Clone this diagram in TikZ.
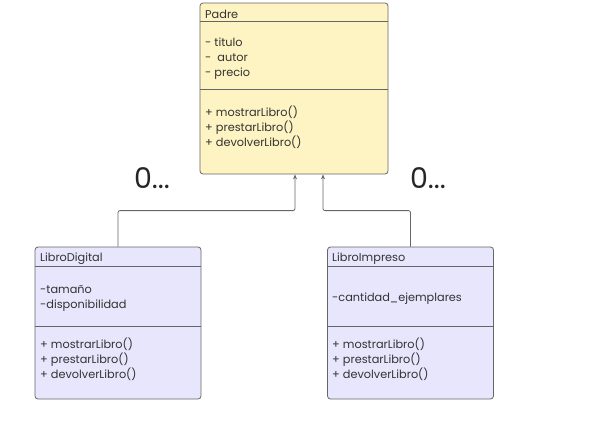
\documentclass[tikz,border=0pt]{standalone}
\usepackage{fontspec}
\setmainfont{Poppins}
\usetikzlibrary{arrows.meta}
\definecolor{padrefill}{HTML}{FEF3C2}
\definecolor{hijofill}{HTML}{E8E6FC}
\definecolor{linea}{HTML}{666666}
\begin{document}
\begin{tikzpicture}
[x=1pt,y=-1pt,
clase/.style={draw=linea,line width=.8pt,rounded corners=3pt,inner sep=0pt},
padre/.style={clase,fill=padrefill,minimum width=188pt,minimum height=171pt},
hijo/.style={clase,fill=hijofill,minimum width=166pt,minimum height=152pt},
sep/.style={draw=linea,line width=.8pt},
txt/.style={anchor=west,inner sep=0pt,align=left,text=black!80,font=\fontsize{11.3}{15}\selectfont},
mult/.style={inner sep=0pt,text=black!85,font=\fontsize{28.5}{28.5}\selectfont},
conn/.style={draw=linea,line width=.8pt,rounded corners=2pt,-{Stealth[length=5pt,width=4pt]}}]
\useasboundingbox (0,0) rectangle (593,434);
\node [padre] (padre) at (294,88.5) {};
\node [hijo] (digital) at (118,323) {};
\node [hijo] (impreso) at (410.5,323) {};
\draw [sep] ([yshift=-19pt]padre.north west) -- ([yshift=-19pt]padre.north east);
\draw [sep] ([yshift=-87pt]padre.north west) -- ([yshift=-87pt]padre.north east);
\foreach \c in {digital,impreso}{
\draw [sep] ([yshift=-20pt]\c.north west) -- ([yshift=-20pt]\c.north east);
\draw [sep] ([yshift=-80pt]\c.north west) -- ([yshift=-80pt]\c.north east);}
\node [txt] (padre-nombre) at (205,14.5) {Padre};
\node [txt] (padre-atr) at (205,58.5) {- titulo\\-\ \ autor\\- precio};
\node [txt] (padre-met) at (205,127) {+ mostrarLibro()\\+ prestarLibro()\\+ devolverLibro()};
\node [txt] (digital-nombre) at (40,258.5) {LibroDigital};
\node [txt] (digital-atr) at (40,298) {-tamaño\\-disponibilidad};
\node [txt] (digital-met) at (40,359) {+ mostrarLibro()\\+ prestarLibro()\\+ devolverLibro()};
\node [txt] (impreso-nombre) at (332,258.5) {LibroImpreso};
\node [txt] (impreso-atr) at (332,298.5) {-cantidad\_ejemplares};
\node [txt] (impreso-met) at (332,359) {+ mostrarLibro()\\+ prestarLibro()\\+ devolverLibro()};
\node [mult] (mult-izq) at (152,178) {0...};
\node [mult] (mult-der) at (428,178) {0...};
\draw [conn] (digital.north) -- ++(0,-36) -| ([xshift=1pt]padre.south);
\draw [conn] (impreso.north) -- ++(0,-36) -| ([xshift=29pt]padre.south);
\end{tikzpicture}
\end{document}
